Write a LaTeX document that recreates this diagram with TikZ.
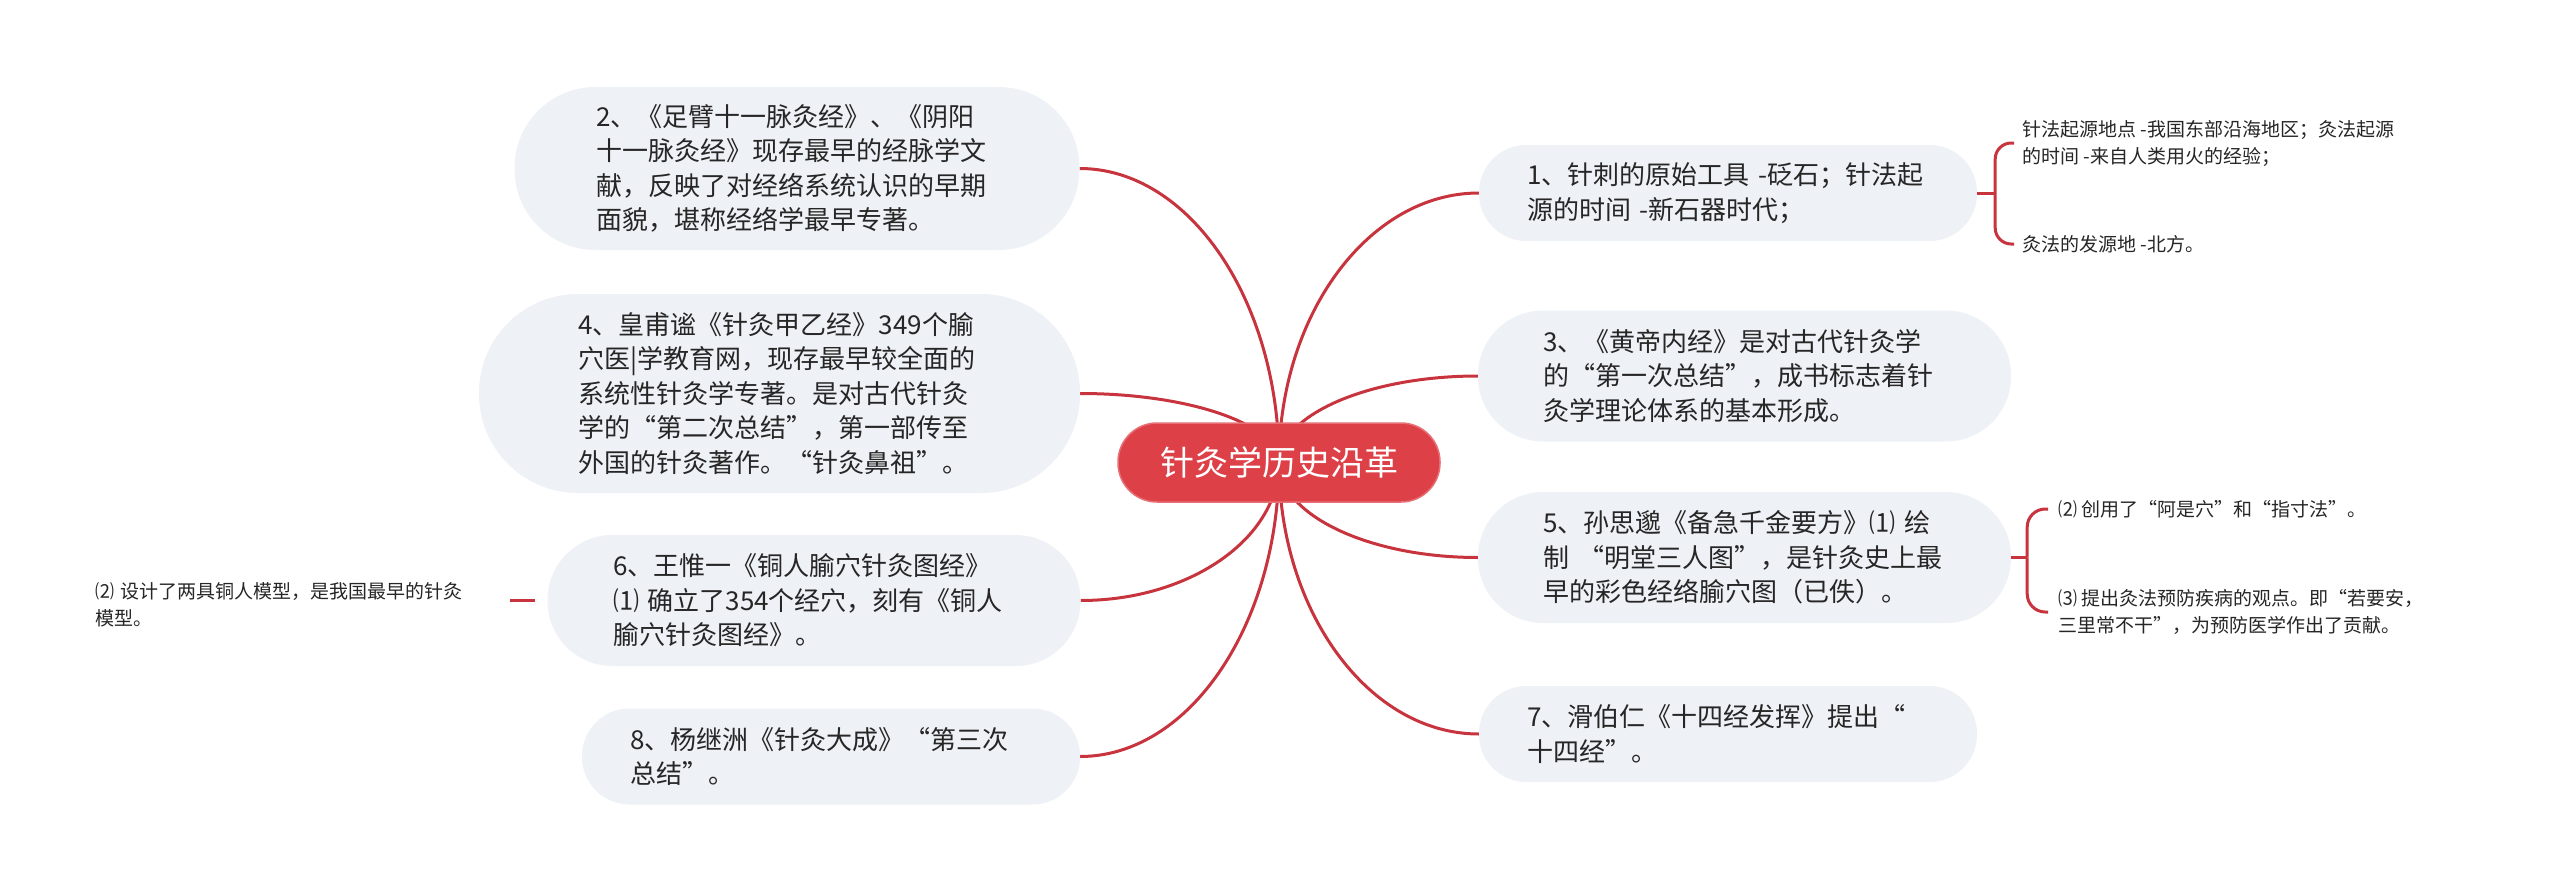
\documentclass[tikz,border=0pt]{standalone}
\usepackage{fontspec}
\setmainfont{Noto Sans CJK SC}
\usetikzlibrary{calc,backgrounds}
\definecolor{linered}{HTML}{C8343E}
\definecolor{rootred}{HTML}{DE4048}
\definecolor{pillfill}{HTML}{EEF1F5}
\definecolor{txt}{HTML}{262626}
\newcommand\rootlink[2]{%
  \draw[conn] (root.center) .. controls ($(root.center)!0.55!(root.center |- #1.#2)$) and ($(#1.#2)!0.55!(root.center |- #1.#2)$) .. (#1.#2);}
\begin{document}
\begin{tikzpicture}[x=1pt,y=-1pt,
  conn/.style={draw=linered, line width=3pt},
  pill/.style={fill=pillfill, text=txt, text width=402pt, align=left, inner sep=0pt, font=\fontsize{26}{34.5}\selectfont},
  pilltwo/.style={pill, minimum height=96pt, minimum width=498pt, rounded corners=47.5pt},
  pillthree/.style={pill, minimum height=131pt, minimum width=533pt, rounded corners=65pt},
  pillfour/.style={pill, minimum height=163pt, minimum width=565pt, rounded corners=81pt},
  pillfive/.style={pill, minimum height=199pt, minimum width=601pt, rounded corners=99pt},
  leaf/.style={text=txt, align=left, font=\fontsize{19}{27}\selectfont, anchor=west, inner ysep=0pt},
  rootbox/.style={fill=rootred, draw=rootred!75!white, line width=1.5pt, text=white, font=\fontsize{34}{40}\selectfont, minimum width=322pt, minimum height=79pt, rounded corners=39pt, inner sep=0pt}
]
\useasboundingbox (0,0) rectangle (2560,891);

% root
\node[rootbox] (root) at (1279,462.5) {针灸学历史沿革};

% right side
\node[pilltwo] (n1) at (1728,193) {1、针刺的原始工具~-砭石；针法起\\源的时间~-新石器时代；};
\node[pillthree] (n3) at (1744.5,376) {3、《黄帝内经》是对古代针灸学\\的“第一次总结”，成书标志着针\\灸学理论体系的基本形成。};
\node[pillthree] (n5) at (1744.5,557.5) {5、孙思邈《备急千金要方》⑴~绘\\制~“明堂三人图”，是针灸史上最\\早的彩色经络腧穴图（已佚）。};
\node[pilltwo] (n7) at (1728,734) {7、滑伯仁《十四经发挥》提出“\\十四经”。};

% left side
\node[pillfour] (n2) at (797,168.5) {2、《足臂十一脉灸经》、《阴阳\\十一脉灸经》现存最早的经脉学文\\献，反映了对经络系统认识的早期\\面貌，堪称经络学最早专著。};
\node[pillfive] (n4) at (779.5,393.5) {4、皇甫谧《针灸甲乙经》349个腧\\穴医|学教育网，现存最早较全面的\\系统性针灸学专著。是对古代针灸\\学的“第二次总结”，第一部传至\\外国的针灸著作。“针灸鼻祖”。};
\node[pillthree] (n6) at (814,600.5) {6、王惟一《铜人腧穴针灸图经》\\⑴~确立了354个经穴，刻有《铜人\\腧穴针灸图经》。};
\node[pilltwo] (n8) at (831,756.5) {8、杨继洲《针灸大成》“第三次\\总结”。};

% leaves
\node[leaf, inner xsep=8pt] (l1a) at (2014,143) {针法起源地点~-我国东部沿海地区；灸法起源\\的时间~-来自人类用火的经验；};
\node[leaf, inner xsep=8pt] (l1b) at (2014,244) {灸法的发源地~-北方。};
\node[leaf, inner xsep=10pt] (l5a) at (2048,509) {⑵~创用了“阿是穴”和“指寸法”。};
\node[leaf, inner xsep=10pt] (l5b) at (2048,612) {⑶~提出灸法预防疾病的观点。即“若要安，\\三里常不干”，为预防医学作出了贡献。};
\node[leaf, inner xsep=0pt, text width=405pt] (l6) at (95,605) {⑵~设计了两具铜人模型，是我国最早的针灸\\模型。};

\begin{scope}[on background layer]
  \fill[white] (0,0) rectangle (2560,891);
  \rootlink{n1}{west}
  \rootlink{n3}{west}
  \rootlink{n5}{west}
  \rootlink{n7}{west}
  \rootlink{n2}{east}
  \rootlink{n4}{east}
  \rootlink{n6}{east}
  \rootlink{n8}{east}
\end{scope}

% bracket for node 1
\coordinate (b1) at ($(n1.east)+(18,0)$);
\draw[conn] (n1.east) -- (b1);
\draw[conn, rounded corners=16pt] (b1) |- (l1a.west);
\draw[conn, rounded corners=16pt] (b1) |- (l1b.west);

% bracket for node 5
\coordinate (b5) at ($(n5.east)+(16,0)$);
\draw[conn] (n5.east) -- (b5);
\draw[conn, rounded corners=18pt] (b5) |- (l5a.west);
\draw[conn, rounded corners=18pt] (b5) |- (l5b.west);

% link for node 6 leaf
\coordinate (l6e) at ($(n6.west -| l6.east)+(10,0)$);
\draw[conn] ([xshift=-12pt]n6.west) -- (l6e);
\end{tikzpicture}
\end{document}
